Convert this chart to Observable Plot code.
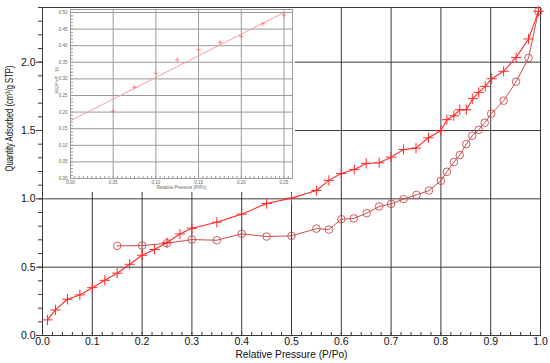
<!DOCTYPE html>
<html><head><meta charset="utf-8">
<script src="https://cdn.jsdelivr.net/npm/d3@7"></script>
<script src="https://cdn.jsdelivr.net/npm/@observablehq/plot@0.6"></script>
<style>
body{margin:0;background:#fff;}
#wrap{position:relative;width:550px;height:363px;overflow:hidden;font-family:"Liberation Sans",Arial,sans-serif;}
#inset{position:absolute;left:43px;top:8px;}
svg{display:block;}
</style></head><body>
<div id="wrap"><div id="main"></div><div id="inset"></div></div>
<script>
// Adsorption branch (+ markers)
const adsP = [0.010,0.026,0.050,0.075,0.100,0.125,0.150,0.175,0.200,0.225,0.250,0.276,0.300,0.350,0.400,0.450,0.500,0.550,0.575,0.600,0.626,0.650,0.676,0.700,0.725,0.750,0.775,0.800,0.812,0.826,0.838,0.851,0.864,0.876,0.889,0.902,0.926,0.951,0.976,0.996];
const adsQ = [0.114,0.187,0.265,0.297,0.350,0.404,0.456,0.521,0.587,0.629,0.680,0.743,0.785,0.829,0.888,0.966,1.005,1.061,1.135,1.185,1.215,1.259,1.264,1.305,1.361,1.371,1.447,1.498,1.579,1.608,1.652,1.652,1.733,1.779,1.823,1.879,1.933,2.035,2.170,2.372];
// Desorption branch (o markers)
const desP = [0.150,0.200,0.250,0.300,0.350,0.400,0.450,0.500,0.550,0.575,0.600,0.625,0.651,0.676,0.700,0.725,0.751,0.776,0.800,0.812,0.826,0.838,0.851,0.863,0.876,0.888,0.901,0.926,0.951,0.976,0.996];
const desQ = [0.656,0.658,0.675,0.702,0.697,0.744,0.724,0.729,0.782,0.775,0.851,0.856,0.895,0.944,0.963,0.998,1.029,1.061,1.132,1.198,1.269,1.320,1.400,1.462,1.505,1.557,1.623,1.718,1.857,2.031,2.372];
// Inset BET plot
const betP = [0.05,0.075,0.10,0.125,0.15,0.175,0.20,0.225,0.25];
const betY = [0.203,0.2745,0.317,0.3575,0.388,0.410,0.428,0.466,0.492];
const fitP = [0, 0.25];
const fitY = [0.174, 0.500];
// Ticks and titles
const xTicks = [0,0.1,0.2,0.3,0.4,0.5,0.6,0.7,0.8,0.9,1.0];
const yTicks = [0,0.5,1.0,1.5,2.0];
const xMinor = d3.range(0, 1.0001, 0.02);
const yMinor = d3.range(0, 2.4001, 0.1);
const insetXTicks = [0,0.05,0.10,0.15,0.20,0.25];
const insetYTicks = [0,0.05,0.10,0.15,0.20,0.25,0.30,0.35,0.40,0.45,0.50];
const insetXMinor = d3.range(0, 0.2601, 0.005);
const insetYMinor = d3.range(0, 0.5091, 0.01);
const xTitle = "Relative Pressure (P/Po)";
const yTitle = "Quantity Adsorbed (cm³/g STP)";
const insetYTitle = "1/[Q(Po/P - 1)]";

const ads = adsP.map((p, i) => ({p, q: adsQ[i]}));
const des = desP.map((p, i) => ({p, q: desQ[i]}));
const bet = betP.map((p, i) => ({p, y: betY[i]}));
const fit = fitP.map((p, i) => ({p, y: fitY[i]}));

const adsColor = "#ff2a2a";
const desColor = "#cc4b4b";
const gridColor = "#3a3a3a";
const FONT = '"Liberation Sans", Arial, sans-serif';

const main = Plot.plot({
  width: 550, height: 363,
  marginLeft: 42, marginRight: 10, marginTop: 7, marginBottom: 28,
  style: {fontFamily: FONT, fontSize: "10.5px", color: "#111", background: "transparent", overflow: "visible"},
  x: {domain: [0, 1]},
  y: {domain: [0, 2.4]},
  marks: [
    Plot.gridX(xTicks, {stroke: gridColor, strokeOpacity: 1, strokeWidth: 1}),
    Plot.gridY(yTicks, {stroke: gridColor, strokeOpacity: 1, strokeWidth: 1}),
    Plot.frame({stroke: gridColor, strokeWidth: 1}),
    Plot.tickX(xMinor, {x: d => d, stroke: gridColor, insetTop: 325}),
    Plot.axisY(yMinor, {tickSize: 4, tickFormat: () => "", label: null, stroke: gridColor}),
    Plot.axisY(yTicks, {tickSize: 6, tickPadding: 1, tickFormat: d => d.toFixed(1), stroke: gridColor, label: null}),
    Plot.axisX(xTicks, {tickSize: 0, tickPadding: 2, tickFormat: d => d.toFixed(1), label: null}),
    Plot.text([xTitle], {frameAnchor: "bottom", dy: 19.5, lineAnchor: "middle", fontSize: 10, fill: "#111"}),
    Plot.text([yTitle], {frameAnchor: "left", dx: -33, rotate: -90, lineAnchor: "middle", fontSize: 10.5, fill: "#111"}),
    Plot.line(des, {x: "p", y: "q", stroke: desColor, strokeWidth: 1}),
    Plot.dot(des, {x: "p", y: "q", stroke: desColor, r: 3.8, strokeWidth: 0.9, fill: "none"}),
    Plot.line(ads, {x: "p", y: "q", stroke: adsColor, strokeWidth: 1.1}),
    Plot.dot(ads, {x: "p", y: "q", stroke: adsColor, symbol: "plus", r: 3.4, strokeWidth: 1})
  ]
});
document.getElementById("main").appendChild(main);

const inset = Plot.plot({
  width: 252, height: 184,
  marginLeft: 27, marginRight: 3, marginTop: 1, marginBottom: 14,
  style: {fontFamily: FONT, fontSize: "4.5px", color: "#666", background: "#fff"},
  x: {domain: [0, 0.26]},
  y: {domain: [0, 0.509]},
  marks: [
    Plot.gridX(insetXTicks, {stroke: "#9a9a9a", strokeOpacity: 1, strokeWidth: 1}),
    Plot.gridY(insetYTicks, {stroke: "#9a9a9a", strokeOpacity: 1, strokeWidth: 1}),
    Plot.frame({stroke: "#9a9a9a", strokeWidth: 1}),
    Plot.tickX(insetXMinor, {x: d => d, stroke: "#999", insetTop: 167}),
    Plot.tickY(insetYMinor, {y: d => d, stroke: "#999", insetRight: 219}),
    Plot.axisY(insetYTicks, {tickSize: 0, tickPadding: 3, tickFormat: d3.format(".2f"), label: null}),
    Plot.axisX(insetXTicks, {tickSize: 0, tickPadding: 2, tickFormat: d3.format(".2f"), label: null}),
    Plot.text([insetYTitle], {frameAnchor: "left", dx: -14, rotate: -90, lineAnchor: "middle", fontSize: 4.2, fill: "#666"}),
    Plot.text([xTitle], {frameAnchor: "bottom", dy: 9, lineAnchor: "middle", fontSize: 4.5, fill: "#666"}),
    Plot.line(fit, {x: "p", y: "y", stroke: "#f0a0a0", strokeWidth: 1, clip: true}),
    Plot.dot(bet, {x: "p", y: "y", stroke: "#ff6f6f", symbol: "plus", r: 1.6, strokeWidth: 0.8})
  ]
});
document.getElementById("inset").appendChild(inset);

// Fit the main axis titles to the reference lengths
const fitText = (svg, str, len) => {
  for (const t of svg.querySelectorAll("text")) {
    if (t.textContent === str) { t.setAttribute("textLength", len); t.setAttribute("lengthAdjust", "spacingAndGlyphs"); }
  }
};
fitText(main, yTitle, 106);
fitText(main, xTitle, 112);
</script>
</body></html>
